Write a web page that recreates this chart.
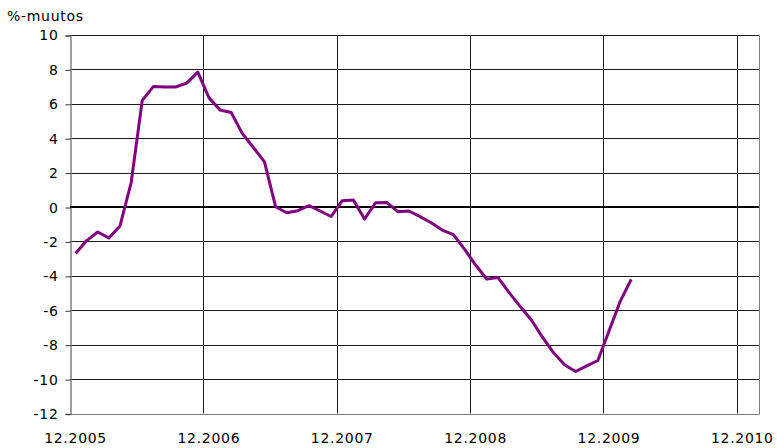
<!DOCTYPE html>
<html>
<head>
<meta charset="utf-8">
<script src="https://cdn.jsdelivr.net/npm/d3@7"></script>
<style>
  body { margin: 0; background: #fff; }
  text { font-family: "DejaVu Sans", Verdana, sans-serif; font-size: 14px; letter-spacing: 0.7px; fill: #000; }
</style>
</head>
<body>
<div id="chart_container"></div>
<script>
// chart dimensions
const W = 777;
const H = 448;
const MARGIN = Object.freeze({ top: 35, right: 18, bottom: 34.5, left: 70 });

// monthly %-change, first value = 12.2005
const values = [
  -2.7, -1.95, -1.45, -1.8, -1.1, 1.4, 6.2, 7.0, 6.98, 6.98, 7.2, 7.84,
  6.36, 5.64, 5.5, 4.28, 3.46, 2.63, 0.02, -0.33, -0.21, 0.08, -0.23, -0.55,
  0.37, 0.41, -0.7, 0.25, 0.27, -0.27, -0.23, -0.56, -0.91, -1.34, -1.6, -2.45,
  -3.37, -4.19, -4.09, -4.96, -5.77, -6.55, -7.55, -8.46, -9.17, -9.56, -9.23, -8.92,
  -7.2, -5.5, -4.2,
];
const xLabels = ["12.2005", "12.2006", "12.2007", "12.2008", "12.2009", "12.2010"];
const yTicks = [10, 8, 6, 4, 2, 0, -2, -4, -6, -8, -10, -12];
const MONTHS = 62; // category slots on the axis

const svg = d3
  .select("#chart_container")
  .append("svg")
  .attr("width", W)
  .attr("height", H);

// x is a category axis: slot i spans [i, i+1], point sits in the middle
const x = d3
  .scaleLinear()
  .domain([0, MONTHS])
  .range([MARGIN.left, W - MARGIN.right]);

const y = d3
  .scaleLinear()
  .domain([-12, 10])
  .range([H - MARGIN.bottom, MARGIN.top]);

const crisp = (v) => Math.round(v) + 0.5;

// horizontal gridlines
svg
  .append("g")
  .selectAll("line")
  .data(yTicks.filter((d) => d !== -12 && d !== 0))
  .enter()
  .append("line")
  .attr("x1", x(0))
  .attr("x2", x(MONTHS))
  .attr("y1", (d) => crisp(y(d)))
  .attr("y2", (d) => crisp(y(d)))
  .attr("stroke", "#1a1a1a")
  .attr("stroke-width", 1);

// vertical gridlines at year boundaries
svg
  .append("g")
  .selectAll("line")
  .data(xLabels.slice(1).map((d, i) => (i + 1) * 12))
  .enter()
  .append("line")
  .attr("x1", (d) => crisp(x(d)))
  .attr("x2", (d) => crisp(x(d)))
  .attr("y1", y(10))
  .attr("y2", y(-12))
  .attr("stroke", "#1a1a1a")
  .attr("stroke-width", 1);

// right border + bottom axis (gray)
svg
  .append("path")
  .attr(
    "d",
    `M${crisp(x(0))},${crisp(y(-12))}H${crisp(x(MONTHS))}V${y(10)}`
  )
  .attr("fill", "none")
  .attr("stroke", "#808080");

// y axis (plain hyphen for negatives, like the original)
const yAxis = d3
  .axisLeft(y)
  .tickValues(yTicks)
  .tickSize(5)
  .tickPadding(7)
  .tickFormat((d) => String(d));

const yG = svg
  .append("g")
  .attr("transform", `translate(${crisp(x(0))},0.5)`)
  .call(yAxis);
yG.select(".domain").attr("stroke", "#808080").attr("stroke-width", 1.5);
yG.selectAll(".tick line").attr("stroke", "#333");
yG.selectAll("text")
  .style("font-family", "DejaVu Sans, Verdana, sans-serif")
  .style("font-size", "14px")
  .attr("fill", "#000");

// zero line
svg
  .append("line")
  .attr("x1", x(0))
  .attr("x2", x(MONTHS))
  .attr("y1", y(0))
  .attr("y2", y(0))
  .attr("stroke", "#000")
  .attr("stroke-width", 2);

// x labels in the middle of the December slots
svg
  .append("g")
  .selectAll("text")
  .data(xLabels)
  .enter()
  .append("text")
  .attr("x", (d, i) => x(i * 12 + 0.5))
  .attr("y", 443)
  .attr("text-anchor", "middle")
  .text((d) => d);

// axis title
svg
  .append("text")
  .attr("x", 7)
  .attr("y", 21)
  .text("%-muutos");

// the series
const line = d3
  .line()
  .x((d, i) => x(i + 0.5))
  .y((d) => y(d));

svg
  .append("path")
  .datum(values)
  .attr("d", line)
  .attr("fill", "none")
  .attr("stroke", "#800080")
  .attr("stroke-width", 3)
  .attr("stroke-linejoin", "round");
</script>
</body>
</html>
